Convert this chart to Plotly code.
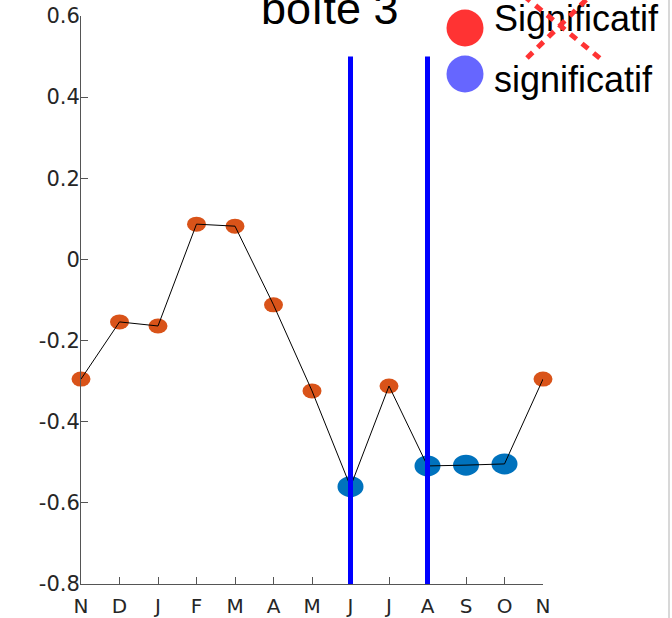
import plotly.graph_objects as go

months = ["N", "D", "J", "F", "M", "A", "M", "J", "J", "A", "S", "O", "N"]
values = [-0.295, -0.154, -0.164, 0.087, 0.082, -0.112, -0.324, -0.560, -0.312, -0.509, -0.507, -0.504, -0.295]
significant = [False, False, False, False, False, False, False, True, False, True, True, True, False]
vline_idx = [7, 9]
vline_range = [-0.8, 0.5]
y_range = [-0.8, 0.6]
y_ticks = [-0.8, -0.6, -0.4, -0.2, 0, 0.2, 0.4, 0.6]
y_ticktext = ["-0.8", "-0.6", "-0.4", "-0.2", "0", "0.2", "0.4", "0.6"]
legend_labels = ["Significatif", "significatif"]
legend_colors = ["#FF3333", "#6666FF"]
title_text = "boîte 3"

xs = list(range(len(months)))
x_range = [0, len(months) - 1]
W, H = 672, 618
L, R, T, B = 81, 129, 16, 34
pw, ph = W - L - R, H - T - B

def px(x):
    return (x - L) / pw

def py(y):
    return (H - B - y) / ph

# data -> paper fractions (linear axis scale) so edge markers are not clipped
def dx(v):
    return (v - x_range[0]) / (x_range[1] - x_range[0])

def dy(v):
    return (v - y_range[0]) / (y_range[1] - y_range[0])

fig = go.Figure()
shapes = []
for x, v, s in zip(xs, values, significant):
    if s:
        hw, hh, col = 13, 10.5, "#0072BD"
    else:
        hw, hh, col = 9.5, 7.5, "#D95319"
    shapes.append(dict(type="circle", xref="paper", yref="paper", xsizemode="pixel", ysizemode="pixel",
                       xanchor=dx(x), yanchor=dy(v), x0=-hw, x1=hw, y0=-hh, y1=hh,
                       fillcolor=col, line=dict(width=0), layer="below"))

fig.add_trace(go.Scatter(x=xs, y=values, mode="lines", line=dict(color="black", width=1),
                         showlegend=False, hoverinfo="skip", cliponaxis=False))

# legend texts as a text trace on a hidden paper-like overlay axis, so the cross can sit above them
fig.add_trace(go.Scatter(x=[px(494), px(494)], y=[py(22), py(83)], mode="text",
                         text=legend_labels, textposition="middle right",
                         textfont=dict(family="Liberation Sans", size=36, color="black"),
                         xaxis="x2", yaxis="y2", cliponaxis=False, showlegend=False, hoverinfo="skip"))

for i in vline_idx:
    shapes.append(dict(type="line", xref="x", yref="y", x0=i, x1=i, y0=vline_range[0], y1=vline_range[1],
                       line=dict(color="#0000FF", width=5), layer="above"))

for cy, col in zip([28, 74], legend_colors):
    shapes.append(dict(type="circle", xref="paper", yref="paper", xsizemode="pixel", ysizemode="pixel",
                       xanchor=px(465), yanchor=py(cy), x0=-18.5, x1=18.5, y0=-18.5, y1=18.5,
                       fillcolor=col, line=dict(width=0), layer="above"))
shapes.append(dict(type="line", xref="paper", yref="paper", x0=px(527), y0=py(58), x1=px(590), y1=py(-4),
                   line=dict(color="#FF3333", width=5, dash="8px,7px"), layer="above"))
shapes.append(dict(type="line", xref="paper", yref="paper", x0=px(524), y0=py(-4), x1=px(602), y1=py(60),
                   line=dict(color="#FF3333", width=5, dash="8px,7px"), layer="above"))
shapes.append(dict(type="line", xref="paper", yref="paper", x0=px(669), x1=px(669), y0=py(0), y1=py(618),
                   line=dict(color="#d8d8d8", width=2), layer="above"))

annotations = [
    dict(text=title_text, xref="paper", yref="paper", x=px(330), y=py(25), xanchor="center", yanchor="bottom",
         showarrow=False, font=dict(family="Liberation Sans", size=45, color="black"), yshift=-11),
]

fig.update_layout(
    width=W, height=H, margin=dict(l=L, r=R, t=T, b=B, autoexpand=False),
    plot_bgcolor="white", paper_bgcolor="white",
    shapes=shapes, annotations=annotations, showlegend=False,
    xaxis=dict(range=x_range, tickvals=xs, ticktext=months, ticks="inside", ticklen=7,
               tickcolor="#555", showline=True, linecolor="#555", linewidth=1, showgrid=False,
               zeroline=False, ticklabelstandoff=4,
               tickfont=dict(family="DejaVu Sans", size=20, color="#262626")),
    yaxis=dict(range=y_range, tickvals=y_ticks, ticktext=y_ticktext,
               ticks="inside", ticklen=7, tickcolor="#555", showline=True, linecolor="#555", linewidth=1,
               showgrid=False, zeroline=False, ticklabelstandoff=-4,
               tickfont=dict(family="DejaVu Sans", size=21, color="#262626")),
    xaxis2=dict(overlaying="x", range=[0, 1], visible=False),
    yaxis2=dict(overlaying="y", range=[0, 1], visible=False),
)

fig.write_html("out.html")
